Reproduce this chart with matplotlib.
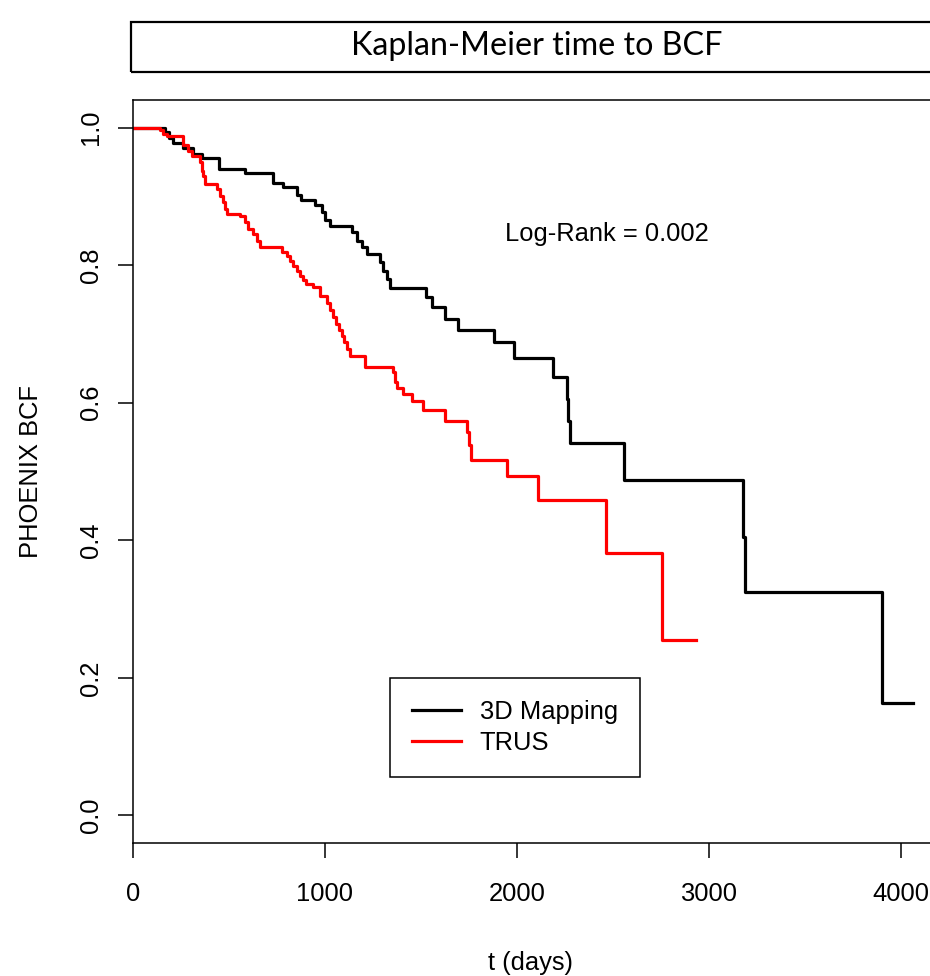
import matplotlib
matplotlib.use("Agg")
import matplotlib.pyplot as plt
from matplotlib.patches import Rectangle

# ---- data ----
t_3d = [0, 167, 187, 208, 260, 312, 359, 448, 583, 729,
        781, 854, 875, 948, 984, 1000, 1026, 1141, 1167, 1193,
        1219, 1286, 1302, 1323, 1338, 1526, 1557, 1625, 1693, 1880,
        1984, 2187, 2260, 2266, 2276, 2557, 3177, 3187, 3901, 4062]
s_3d = [1.0, .994, .985, .978, .970, .962, .955, .939, .934, .920,
        .914, .902, .895, .887, .877, .866, .857, .848, .835, .826,
        .816, .805, .792, .780, .767, .754, .739, .721, .706, .688,
        .665, .637, .605, .574, .542, .488, .405, .325, .163, .163]

t_trus = [0, 141, 156, 177, 260, 286, 307, 349, 359, 365,
          375, 437, 453, 469, 479, 490, 557, 583, 599, 625,
          646, 661, 776, 802, 818, 833, 854, 870, 885, 901,
          937, 974, 1010, 1026, 1042, 1057, 1073, 1089, 1099, 1115,
          1130, 1208, 1354, 1365, 1375, 1406, 1453, 1510, 1625, 1740,
          1750, 1760, 1948, 2109, 2463, 2755, 2932]
s_trus = [1.0, .996, .991, .987, .974, .966, .959, .950, .937, .930,
          .918, .911, .901, .892, .882, .875, .871, .863, .853, .845,
          .835, .827, .819, .813, .806, .799, .792, .784, .778, .773,
          .768, .755, .745, .735, .725, .715, .706, .697, .688, .678,
          .668, .652, .644, .630, .622, .612, .602, .590, .574, .557,
          .538, .517, .493, .459, .382, .255, .255]

series_labels = ["3D Mapping", "TRUS"]
x_ticks = [0, 1000, 2000, 3000, 4000]
y_ticks = [0.0, 0.2, 0.4, 0.6, 0.8, 1.0]
y_tick_labels = ["0.0", "0.2", "0.4", "0.6", "0.8", "1.0"]
title = "Kaplan-Meier time to BCF"
annotation = "Log-Rank = 0.002"
x_label = "t (days)"
y_label = "PHOENIX BCF"

# ---- figure ----
W, H = 930, 976
fig = plt.figure(figsize=(W / 100, H / 100), dpi=100)
plt.rcParams['font.family'] = ['Liberation Sans', 'DejaVu Sans']
FS = 18.4

x_right = 4160
left_px, top_px, bottom_px = 133, 100, 843
px_per_unit = 192 / 1000
ax_w_px = x_right * px_per_unit
ax = fig.add_axes([left_px / W, 1 - bottom_px / H, ax_w_px / W, (bottom_px - top_px) / H])

ax.step(t_3d, s_3d, where='post', color='black', lw=2.3, label=series_labels[0])
ax.step(t_trus, s_trus, where='post', color='#ff0000', lw=2.3, label=series_labels[1])

ax.set_xlim(0, x_right)
ax.set_ylim(-0.04, 1.04)
ax.set_xticks(x_ticks)
ax.set_xticklabels([str(v) for v in x_ticks])
ax.set_yticks(y_ticks)
ax.set_yticklabels(y_tick_labels)

for sp in ax.spines.values():
    sp.set_linewidth(1.1)
    sp.set_color('black')

ax.tick_params(axis='both', direction='out', length=10.8, width=1.1, labelsize=FS, colors='black')
ax.tick_params(axis='x', pad=17)
ax.tick_params(axis='y', pad=11)
for lab in ax.get_yticklabels():
    lab.set_rotation(90)
    lab.set_va('center')
    lab.set_ha('right')

ax.set_xlabel(x_label, fontsize=FS, labelpad=33)
ax.set_ylabel(y_label, fontsize=FS, labelpad=26)
ax.xaxis.label.set_x((530 - left_px) / ax_w_px)

ax.text(2470, 0.845, annotation, fontsize=FS, ha='center', va='center')

leg = ax.legend(loc='upper left', bbox_to_anchor=(390 / W, 1 - 678 / H),
                bbox_transform=fig.transFigure, borderaxespad=0,
                fontsize=FS, handlelength=1.9, handletextpad=0.75,
                borderpad=0.86, labelspacing=0.28, fancybox=False,
                framealpha=1, edgecolor='black')
leg.get_frame().set_linewidth(1.1)

# title box
fig.patches.append(Rectangle((131 / W, 1 - 72 / H), 1.2, 50 / H,
                             transform=fig.transFigure, fill=False,
                             edgecolor='black', lw=1.6))
fig.text(537 / W, 1 - 46 / H, title, fontsize=23.2, ha='center', va='center',
         family=['Lato', 'DejaVu Sans'])

fig.savefig("out.png", dpi=100)
